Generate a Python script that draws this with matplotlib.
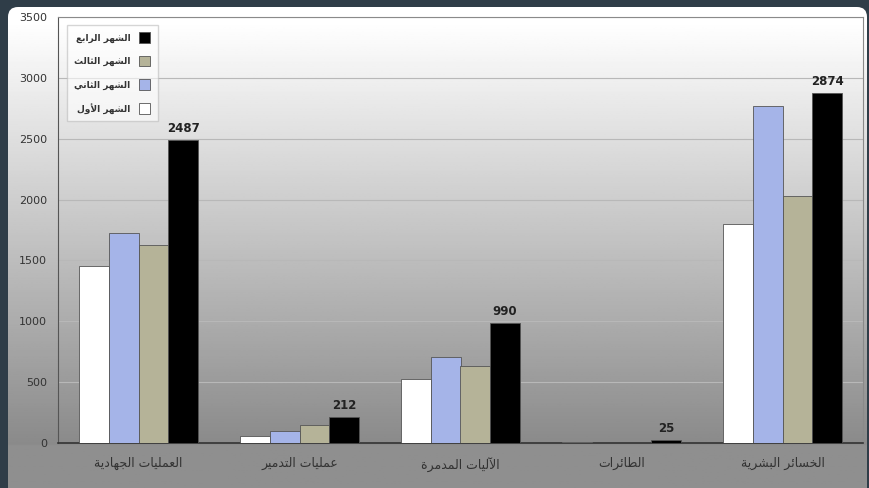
#!/usr/bin/env python
# -*- coding: utf-8 -*-

'''
Grafico de barras: حصاد الأشهر الأربعة
'''

import numpy as np
import matplotlib
matplotlib.use('Agg')
import matplotlib.pyplot as plt
from matplotlib.patches import FancyBboxPatch

categorias = ['العمليات الجهادية', 'عمليات التدمير', 'الآليات المدمرة',
              'الطائرات', 'الخسائر البشرية']
meses = ['الشهر الأول', 'الشهر الثاني', 'الشهر الثالث', 'الشهر الرابع']
mes1 = [1455, 57, 526, 12, 1800]
mes2 = [1727, 99, 707, 3, 2770]
mes3 = [1628, 146, 633, 4, 2030]
mes4 = [2487, 212, 990, 25, 2874]
cores = ['#ffffff', '#a5b4e8', '#b5b398', '#000000']
y_ticks = [0, 500, 1000, 1500, 2000, 2500, 3000, 3500]

# formas contextuais (isolada, final, inicial, medial); None = nao liga a esquerda
FORMAS = {
    'ا': (0xFE8D, 0xFE8E, None, None), 'أ': (0xFE83, 0xFE84, None, None),
    'آ': (0xFE81, 0xFE82, None, None), 'ب': (0xFE8F, 0xFE90, 0xFE91, 0xFE92),
    'ت': (0xFE95, 0xFE96, 0xFE97, 0xFE98), 'ة': (0xFE93, 0xFE94, None, None),
    'ث': (0xFE99, 0xFE9A, 0xFE9B, 0xFE9C), 'ج': (0xFE9D, 0xFE9E, 0xFE9F, 0xFEA0),
    'ح': (0xFEA1, 0xFEA2, 0xFEA3, 0xFEA4), 'خ': (0xFEA5, 0xFEA6, 0xFEA7, 0xFEA8),
    'د': (0xFEA9, 0xFEAA, None, None), 'ر': (0xFEAD, 0xFEAE, None, None),
    'س': (0xFEB1, 0xFEB2, 0xFEB3, 0xFEB4), 'ش': (0xFEB5, 0xFEB6, 0xFEB7, 0xFEB8),
    'ط': (0xFEC1, 0xFEC2, 0xFEC3, 0xFEC4), 'ع': (0xFEC9, 0xFECA, 0xFECB, 0xFECC),
    'ل': (0xFEDD, 0xFEDE, 0xFEDF, 0xFEE0), 'م': (0xFEE1, 0xFEE2, 0xFEE3, 0xFEE4),
    'ن': (0xFEE5, 0xFEE6, 0xFEE7, 0xFEE8), 'ه': (0xFEE9, 0xFEEA, 0xFEEB, 0xFEEC),
    'و': (0xFEED, 0xFEEE, None, None), 'ي': (0xFEF1, 0xFEF2, 0xFEF3, 0xFEF4),
    'ئ': (0xFE89, 0xFE8A, 0xFE8B, 0xFE8C),
}
LAM_ALEF = {'ا': (0xFEFB, 0xFEFC), 'أ': (0xFEF7, 0xFEF8), 'آ': (0xFEF5, 0xFEF6)}


def moldar(texto):
    # junta as letras arabes e inverte para desenho da esquerda p/ direita
    letras = []
    i = 0
    while i < len(texto):
        c = texto[i]
        if c == 'ل' and i + 1 < len(texto) and texto[i + 1] in LAM_ALEF:
            letras.append(('LA', texto[i + 1]))
            i += 2
        else:
            letras.append(('C', c))
            i += 1

    def liga_esq(item):
        tipo, c = item
        if tipo == 'LA':
            return False
        return c in FORMAS and FORMAS[c][2] is not None

    def arabe(item):
        return item[0] == 'LA' or item[1] in FORMAS

    saida = []
    for k, item in enumerate(letras):
        ant = letras[k - 1] if k > 0 else None
        prox = letras[k + 1] if k + 1 < len(letras) else None
        liga_ant = ant is not None and liga_esq(ant)
        liga_prox = prox is not None and arabe(prox) and liga_esq(item)
        tipo, c = item
        if tipo == 'LA':
            iso, fin = LAM_ALEF[c]
            saida.append(chr(fin if liga_ant else iso))
            continue
        if c not in FORMAS:
            saida.append(c)
            continue
        iso, fin, ini, med = FORMAS[c]
        if liga_ant and liga_prox:
            cp = med
        elif liga_ant:
            cp = fin
        elif liga_prox:
            cp = ini
        else:
            cp = iso
        saida.append(chr(cp))
    return ''.join(saida)[::-1]


def plot():
    fig = plt.figure(figsize=(8.69, 4.88), dpi=100)
    fig.patch.set_facecolor('#2f3d48')

    # painel de fundo com degrade
    bg = fig.add_axes([0, 0, 1, 1], zorder=0)
    bg.set_xlim(0, 869)
    bg.set_ylim(488, 0)
    bg.axis('off')
    t = np.linspace(0, 1, 256)[:, None]
    grad = 1.0 - 0.46 * np.clip((t * 488 - 15) / 430, 0, 1)
    grad = np.where(t * 488 > 445, 0.56, grad)
    img = bg.imshow(np.repeat(grad, 2, axis=1), cmap='gray', vmin=0, vmax=1,
                    extent=[8, 869, 488, 7], aspect='auto')
    painel = FancyBboxPatch((8, 7), 859, 600,
                            boxstyle='round,pad=0,rounding_size=10',
                            transform=bg.transData, facecolor='none',
                            edgecolor='none')
    bg.add_patch(painel)
    img.set_clip_path(painel)

    ax = fig.add_axes([58 / 869, 45 / 488, 805 / 869, 426 / 488], zorder=1)
    ax.patch.set_visible(False)

    x = np.arange(len(categorias))
    largura = 0.185
    series = [mes1, mes2, mes3, mes4]
    for i, (vals, cor) in enumerate(zip(series, cores)):
        ax.bar(x + (i - 1.5) * largura, vals, largura, color=cor,
               edgecolor='#555555', linewidth=0.6, label=moldar(meses[i]),
               zorder=3)

    for xi, v in zip(x, mes4):
        ax.text(xi + 1.5 * largura, v + 40, str(v), ha='center', va='bottom',
                fontsize=8.5, fontweight='bold', color='#222222')

    ax.set_xlim(-0.5, 4.5)
    ax.set_ylim(0, 3500)
    ax.set_yticks(y_ticks)
    ax.set_yticklabels([str(v) for v in y_ticks])
    ax.set_xticks(x)
    ax.set_xticklabels([moldar(c) for c in categorias])
    ax.tick_params(axis='y', length=0, pad=8, labelsize=8, labelcolor='#333333')
    ax.tick_params(axis='x', length=0, pad=10, labelsize=9, labelcolor='#333333')
    ax.grid(axis='y', color='#b8b8b8', linewidth=0.8, zorder=0)
    ax.set_axisbelow(True)
    for lado in ['top', 'right']:
        ax.spines[lado].set_color('#8a8a8a')
    ax.spines['left'].set_color('#555555')
    ax.spines['bottom'].set_color('#333333')
    ax.spines['bottom'].set_linewidth(1.2)

    # legenda (texto a esquerda, amostra a direita)
    h, l = ax.get_legend_handles_labels()
    leg = ax.legend(h[::-1], l[::-1], loc='upper left', markerfirst=False,
                    bbox_to_anchor=(0.011, 0.981),
                    prop={'weight': 'bold', 'size': 6.5}, frameon=True,
                    fancybox=False, handlelength=1.3, handleheight=1.4,
                    labelspacing=1.45, borderpad=0.8, handletextpad=0.9,
                    borderaxespad=0)
    leg.get_frame().set_edgecolor('#bbbbbb')
    leg.get_frame().set_facecolor('#ffffff')
    leg.get_frame().set_alpha(0.6)
    for txt in leg.get_texts():
        txt.set_color('#333333')

    fig.savefig('out.png', dpi=100, facecolor=fig.get_facecolor())


if __name__ == '__main__':
    plot()
